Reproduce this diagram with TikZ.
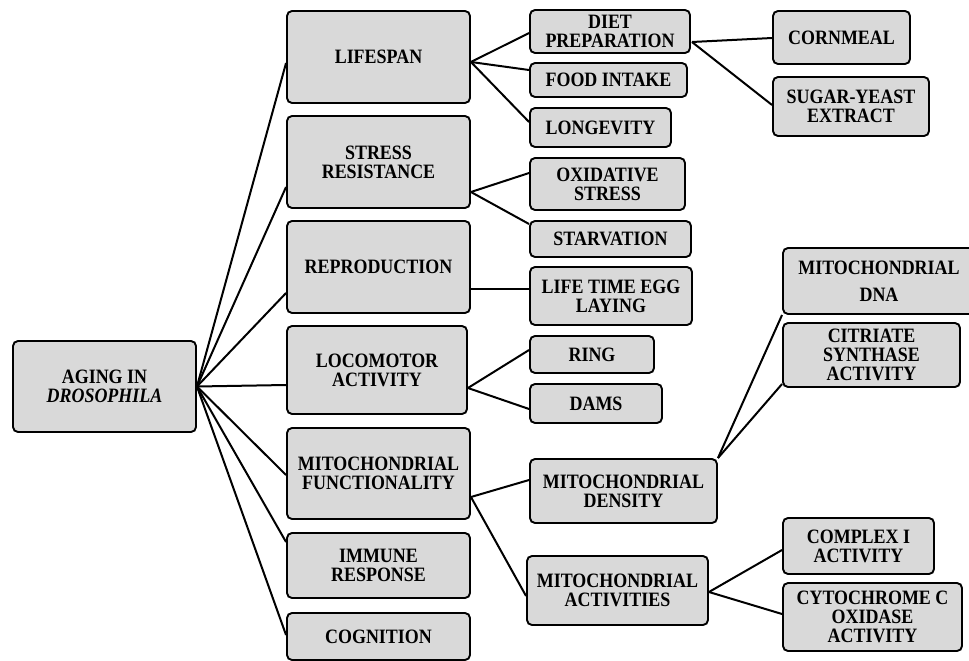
\documentclass[tikz,border=0pt]{standalone}
\usepackage{fontspec}
\setmainfont{Liberation Serif}[FakeStretch=0.88]
\usetikzlibrary{calc}
\definecolor{boxgray}{RGB}{217,217,217}
\tikzset{
  box/.style={draw=black, fill=boxgray, line width=1.9pt, rounded corners=5pt,
    inner sep=0pt, align=center, font=\fontsize{20.4}{19}\selectfont\bfseries},
  link/.style={draw=black, line width=2pt}
}
\begin{document}
\begin{tikzpicture}[x=1pt,y=-1pt]
\useasboundingbox (0,0) rectangle (969,661);
% root
\node[box, minimum width=183pt, minimum height=91pt] (root) at (104.5,386.5) {AGING IN\\\textit{DROSOPHILA}};
% level 1
\node[box, minimum width=183pt, minimum height=92pt] (life) at (378.5,57) {LIFESPAN};
\node[box, minimum width=183pt, minimum height=92pt] (stress) at (378.5,162) {STRESS\\RESISTANCE};
\node[box, minimum width=183pt, minimum height=92pt] (repro) at (378.5,267) {REPRODUCTION};
\node[box, minimum width=180pt, minimum height=88pt] (loco) at (377,370) {LOCOMOTOR\\ACTIVITY};
\node[box, minimum width=183pt, minimum height=91pt] (mfunc) at (378.5,473.5) {MITOCHONDRIAL\\FUNCTIONALITY};
\node[box, minimum width=183pt, minimum height=65pt] (immune) at (378.5,565.5) {IMMUNE\\RESPONSE};
\node[box, minimum width=183pt, minimum height=47pt] (cog) at (378.5,636.5) {COGNITION};
% level 2
\node[box, minimum width=160pt, minimum height=43pt] (diet) at (610,31.5) {DIET\\PREPARATION};
\node[box, minimum width=157pt, minimum height=34pt] (food) at (608.5,80) {FOOD INTAKE};
\node[box, minimum width=141pt, minimum height=39pt] (longev) at (600.5,127.5) {LONGEVITY};
\node[box, minimum width=155pt, minimum height=52pt] (oxid) at (607.5,184) {OXIDATIVE\\STRESS};
\node[box, minimum width=161pt, minimum height=36pt] (starv) at (610.5,239) {STARVATION};
\node[box, minimum width=162pt, minimum height=58pt] (egg) at (611,296) {LIFE TIME EGG\\LAYING};
\node[box, minimum width=124pt, minimum height=37pt] (ring) at (592,354.5) {RING};
\node[box, minimum width=132pt, minimum height=39pt] (dams) at (596,403.5) {DAMS};
\node[box, minimum width=187pt, minimum height=64pt] (mdens) at (623.5,491) {MITOCHONDRIAL\\DENSITY};
\node[box, minimum width=181pt, minimum height=69pt] (mact) at (617.5,590.5) {MITOCHONDRIAL\\ACTIVITIES};
% level 3
\node[box, minimum width=137pt, minimum height=53pt] (corn) at (841.5,37.5) {CORNMEAL};
\node[box, minimum width=156pt, minimum height=59pt] (sugar) at (851,106.5) {SUGAR-YEAST\\EXTRACT};
\node[box, minimum width=192pt, minimum height=66pt] (mdna) at (879,281) {MITOCHONDRIAL\\[8pt]DNA};
\node[box, minimum width=177pt, minimum height=64pt] (citr) at (871.5,355) {CITRIATE\\SYNTHASE\\ACTIVITY};
\node[box, minimum width=151pt, minimum height=56pt] (comp) at (858.5,546) {COMPLEX I\\ACTIVITY};
\node[box, minimum width=179pt, minimum height=68pt] (cyto) at (872.5,617) {CYTOCHROME C\\OXIDASE\\ACTIVITY};
% connectors root
\draw[link] (root.east) -- ($(life.west)+(0,6)$);
\draw[link] (root.east) -- ($(stress.west)+(0,25)$);
\draw[link] (root.east) -- ($(repro.west)+(0,26)$);
\draw[link] (root.east) -- ($(loco.west)+(0,15)$);
\draw[link] (root.east) -- ($(mfunc.west)+(0,1.5)$);
\draw[link] (root.east) -- ($(immune.west)+(0,-23.5)$);
\draw[link] (root.east) -- ($(cog.west)+(0,-1.5)$);
% lifespan
\coordinate (lifeo) at ($(life.east)+(0,5)$);
\draw[link] (lifeo) -- ($(diet.west)+(0,1.5)$);
\draw[link] (lifeo) -- ($(food.west)+(0,-10)$);
\draw[link] (lifeo) -- ($(longev.west)+(0,-5.5)$);
% stress
\coordinate (stresso) at ($(stress.east)+(0,30)$);
\draw[link] (stresso) -- ($(oxid.west)+(0,-11)$);
\draw[link] (stresso) -- ($(starv.west)+(0,-15)$);
% repro
\draw[link] ($(repro.east)+(0,22)$) -- ($(egg.west)+(0,-7)$);
% loco
\coordinate (locoo) at ($(loco.east)+(0,18)$);
\draw[link] (locoo) -- ($(ring.west)+(0,-4.5)$);
\draw[link] (locoo) -- ($(dams.west)+(0,5.5)$);
% mito func
\coordinate (mfunco) at ($(mfunc.east)+(0,23.5)$);
\draw[link] (mfunco) -- ($(mdens.west)+(0,-11)$);
\draw[link] (mfunco) -- ($(mact.west)+(0,5.5)$);
% diet
\coordinate (dieto) at ($(diet.east)+(1,10.5)$);
\draw[link] (dieto) -- ($(corn.west)+(0,0.5)$);
\draw[link] (dieto) -- ($(sugar.west)+(0,-1.5)$);
% mito density
\draw[link] (mdens.north east) -- (mdna.south west);
\draw[link] (mdens.north east) -- ($(citr.west)+(0,29)$);
% mito activities
\coordinate (macto) at ($(mact.east)+(0,1.5)$);
\draw[link] (macto) -- ($(comp.west)+(0,4)$);
\draw[link] (macto) -- ($(cyto.west)+(0,-3)$);
\end{tikzpicture}
\end{document}
